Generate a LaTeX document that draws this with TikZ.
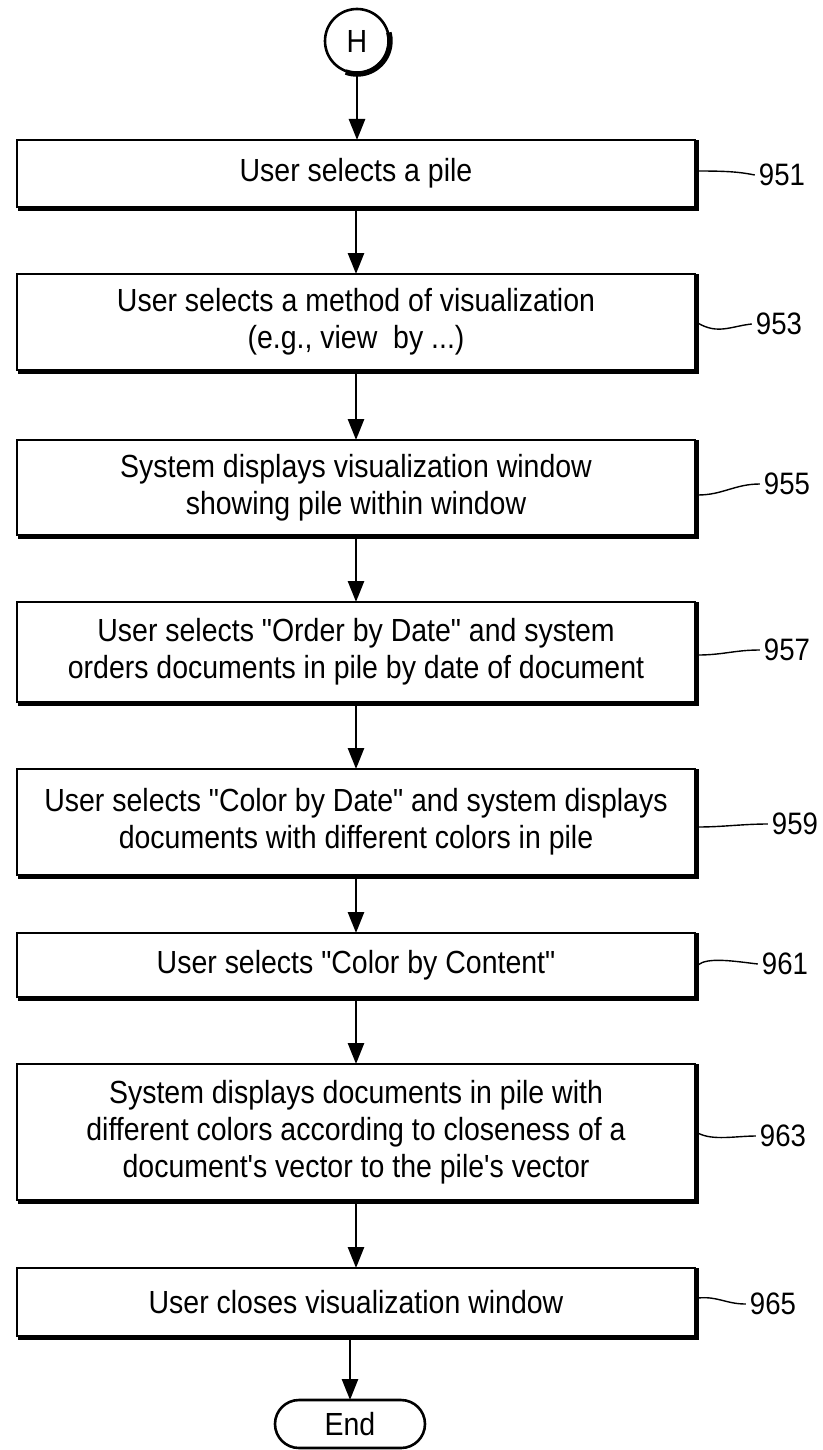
\documentclass[tikz,border=0pt]{standalone}
\usepackage{fontspec}
\setmainfont{Liberation Sans}[FakeStretch=0.89, Ligatures=TeXOff]
\usetikzlibrary{arrows.meta}
\newcommand\bxfont{\fontsize{32}{37}\selectfont}
\newcommand\nmfont{\fontsize{31}{37}\selectfont}
\begin{document}
\begin{tikzpicture}[x=1pt,y=-1pt,
 stepbox/.style={draw, line width=2.8pt, minimum width=678pt, align=center, inner sep=0pt, outer sep=0pt, font=\bxfont},
 arr/.style={line width=2.6pt, -{Triangle[length=21pt,width=16pt]}},
 lead/.style={line width=1.4pt},
 num/.style={font=\nmfont, inner sep=4pt},
 heavy/.style={line width=5.5pt}]
\useasboundingbox (0,0) rectangle (822,1450);
\node[draw, circle, minimum size=64pt, line width=2.6pt, outer sep=0pt, font=\bxfont] (H) at (357,41) {H};
\node[stepbox, minimum height=67pt] (b1) at (356,173.5) {User selects a pile};
\node[stepbox, minimum height=96pt] (b2) at (356,322) {User selects a method of visualization\\(e.g., view\ \ by ...)};
\node[stepbox, minimum height=95pt] (b3) at (356,487.5) {System displays visualization window\\showing pile within window};
\node[stepbox, minimum height=100pt] (b4) at (356,652) {User selects "Order by Date" and system\\orders documents in pile by date of document};
\node[stepbox, minimum height=106pt] (b5) at (356,822) {User selects "Color by Date" and system displays\\documents with different colors in pile};
\node[stepbox, minimum height=64pt] (b6) at (356,965) {User selects "Color by Content"};
\node[stepbox, minimum height=136pt] (b7) at (356,1132) {System displays documents in pile with\\different colors according to closeness of a\\document's vector to the pile's vector};
\node[stepbox, minimum height=68pt] (b8) at (356,1302) {User closes visualization window};
\node[draw, rounded corners=24pt, minimum width=150pt, minimum height=48pt, line width=2.6pt, outer sep=0pt, font=\bxfont] (E) at (350,1424) {End};
\foreach \n in {b1,b2,b3,b4,b5,b6,b7,b8}{
  \draw[heavy] ([xshift=1.4pt,yshift=-1.4pt]\n.south west) -- ([xshift=1.4pt,yshift=-1.4pt]\n.south east) -- ([xshift=1.4pt]\n.north east);
}
\begin{scope}[y=1pt]
\draw[heavy] ([shift={(-110:33pt)}]H.center) arc[start angle=-110, end angle=15, radius=33pt];
\end{scope}
\draw[arr] (H.south) -- (H.south |- b1.north);
\draw[arr] (b1) -- (b2);
\draw[arr] (b2) -- (b3);
\draw[arr] (b3) -- (b4);
\draw[arr] (b4) -- (b5);
\draw[arr] (b5) -- (b6);
\draw[arr] (b6) -- (b7);
\draw[arr] (b7) -- (b8);
\draw[arr] (E.north |- b8.south) -- (E.north);
\node[num] (l1) at (782,175) {951};
\node[num] (l2) at (779,324) {953};
\node[num] (l3) at (787,484) {955};
\node[num] (l4) at (787,650) {957};
\node[num] (l5) at (795,824) {959};
\node[num] (l6) at (785,964) {961};
\node[num] (l7) at (783,1136) {963};
\node[num] (l8) at (773,1304) {965};
\draw[lead] ([xshift=2.8pt,yshift=2.5pt]b1.east) .. controls +(30,0) and +(-15,-3) .. (l1.west);
\draw[lead] ([xshift=2.8pt,yshift=-1pt]b2.east) .. controls +(20,12) and +(-20,2) .. (l2.west);
\draw[lead] ([xshift=2.8pt,yshift=-7.5pt]b3.east) .. controls +(25,0) and +(-25,0) .. (l3.west);
\draw[lead] ([xshift=2.8pt,yshift=-3pt]b4.east) .. controls +(25,0) and +(-25,0) .. (l4.west);
\draw[lead] ([xshift=2.8pt,yshift=-5pt]b5.east) .. controls +(25,0) and +(-25,0) .. (l5.west);
\draw[lead] ([xshift=2.8pt]b6.east) .. controls +(10,-8) and +(-25,-3) .. (l6.west);
\draw[lead] ([xshift=2.8pt,yshift=-1pt]b7.east) .. controls +(15,8) and +(-20,0) .. (l7.west);
\draw[lead] ([xshift=2.8pt,yshift=4pt]b8.east) .. controls +(20,-2) and +(-20,0) .. (l8.west);
\end{tikzpicture}
\end{document}
